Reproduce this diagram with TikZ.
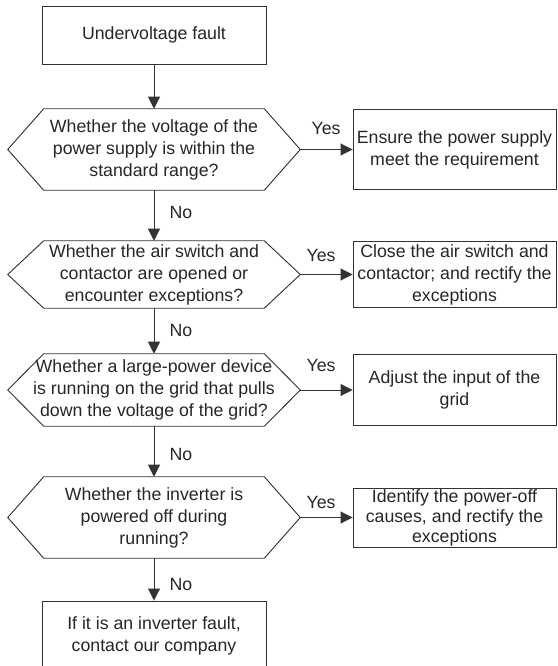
\documentclass[tikz,border=0pt]{standalone}
\usepackage{fontspec}
\setmainfont{Liberation Sans}
\usetikzlibrary{arrows.meta}

\begin{document}
\begin{tikzpicture}[x=0.75pt,y=-0.75pt,
	font=\fontsize{13.3}{16.5}\selectfont,
	box/.style={rectangle,draw=black!80,line width=0.7pt,align=center,inner sep=0pt,text=black!85,minimum width=152.25pt},
	ask/.style={rectangle,align=center,inner sep=0pt,text=black!85,minimum width=219pt},
	hexline/.style={draw=black!80,line width=0.7pt},
	flow/.style={draw=black!80,line width=0.7pt,-{Triangle[length=9pt,width=9pt]}},
	tag/.style={inner sep=0pt,text=black!85}]
	
	\useasboundingbox (0,0) rectangle (557,666);
	
	\node(fault) [box,minimum width=168pt,minimum height=43.5pt] at (154,35) {Undervoltage fault};
	
	\node(d1) [ask,minimum height=60.75pt] at (154,149.5) {Whether the voltage of the\\power supply is within the\\standard range?};
	
	\node(b1) [box,minimum height=60pt] at (454.5,149.5) {Ensure the power supply\\meet the requirement};
	
	\node(d2) [ask,minimum height=50.25pt] at (154,274.5) {Whether the air switch and\\contactor are opened or\\encounter exceptions?};
	
	\node(b2) [box,minimum height=49.5pt] at (454.5,274.5) {Close the air switch and\\contactor; and rectify the\\exceptions};
	
	\node(d3) [ask,minimum height=54pt] at (154,390) {Whether a large-power device\\is running on the grid that pulls\\down the voltage of the grid?};
	
	\node(b3) [box,minimum height=53.25pt] at (454.5,390) {Adjust the input of the\\grid};
	
	\node(d4) [ask,minimum height=60.75pt] at (154,517.5) {Whether the inverter is\\powered off during\\running?};
	
	\node(b4) [box,minimum height=44.25pt,inner ysep=-2pt,font=\fontsize{13.3}{15}\selectfont] at (454.5,517.5) {Identify the power-off\\causes, and rectify the\\exceptions};
	
	\node(company) [box,minimum width=168pt,minimum height=52.5pt] at (154,636) {If it is an inverter fault,\\contact our company};
	
	% hexagon outlines round the questions
	\foreach \q in {d1,d2,d3,d4}
	\draw[hexline] (\q.west) -- ([xshift=27pt]\q.north west) -- ([xshift=-27pt]\q.north east) -- (\q.east)
	-- ([xshift=-27pt]\q.south east) -- ([xshift=27pt]\q.south west) -- cycle;
	
	\draw[flow] (fault) -- (d1);
	
	\draw[flow] (d1) -- (d2);
	
	\draw[flow] (d2) -- (d3);
	
	\draw[flow] (d3) -- (d4);
	
	\draw[flow] (d4) -- (company);
	
	\draw[flow] (d1) -- (b1);
	
	\draw[flow] (d2) -- (b2);
	
	\draw[flow] (d3) -- (b3);
	
	\draw[flow] (d4) -- (b4);
	
	\node(yes1) [tag] at (326,128) {Yes};
	
	\node(yes2) [tag] at (321,255) {Yes};
	
	\node(yes3) [tag] at (321,365) {Yes};
	
	\node(yes4) [tag] at (321,502) {Yes};
	
	\node(no1) [tag] at (181,212) {No};
	
	\node(no2) [tag] at (181,330) {No};
	
	\node(no3) [tag] at (181,454) {No};
	
	\node(no4) [tag] at (181,584) {No};
	
\end{tikzpicture}
\end{document}
